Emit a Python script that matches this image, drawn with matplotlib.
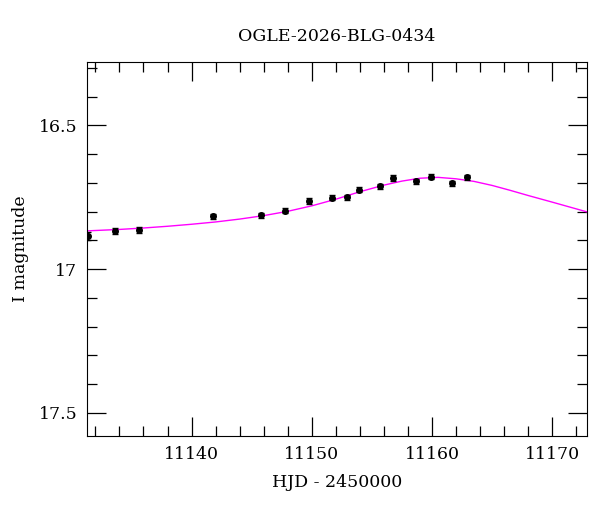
import matplotlib
matplotlib.use("Agg")
import matplotlib.pyplot as plt
from matplotlib.ticker import MultipleLocator

plt.rcParams['font.family'] = ['DejaVu Serif']

# photometry (HJD - 2450000, I mag, error)
hjd = [11131.4, 11133.6, 11135.6, 11141.8, 11145.8, 11147.8, 11149.8, 11151.7,
       11152.9, 11153.9, 11155.7, 11156.8, 11158.7, 11159.9, 11161.7, 11162.9]
mag = [16.885, 16.868, 16.864, 16.817, 16.813, 16.797, 16.763, 16.751,
       16.750, 16.724, 16.712, 16.683, 16.695, 16.679, 16.702, 16.681]
err = [0.014, 0.010, 0.011, 0.010, 0.009, 0.009, 0.009, 0.009,
       0.008, 0.008, 0.009, 0.009, 0.009, 0.008, 0.009, 0.009]

# model curve
model_t = [11131.3, 11134, 11136, 11138, 11140, 11142, 11144, 11146, 11148,
           11150, 11152, 11154, 11156, 11157.5, 11159, 11160.5, 11162,
           11163.5, 11165, 11166.5, 11168, 11170, 11172.9]
model_m = [16.867, 16.862, 16.857, 16.851, 16.844, 16.836, 16.826, 16.814, 16.799,
           16.780, 16.757, 16.731, 16.708, 16.694, 16.684, 16.681, 16.686,
           16.695, 16.709, 16.726, 16.744, 16.767, 16.801]

fig = plt.figure(figsize=(6, 5.12), dpi=100)
ax = fig.add_axes([87/600, 1 - 436/512, 500/600, 374/512])

ax.plot(model_t, model_m, color='magenta', lw=1)
ax.errorbar(hjd, mag, yerr=err, fmt='o', color='black', ms=4,
            elinewidth=1, capsize=2.5, capthick=1)

ax.set_xlim(11131.3, 11172.9)
ax.set_ylim(17.58, 16.28)
ax.xaxis.set_major_locator(MultipleLocator(10))
ax.xaxis.set_minor_locator(MultipleLocator(2))
ax.yaxis.set_major_locator(MultipleLocator(0.5))
ax.yaxis.set_minor_locator(MultipleLocator(0.1))
ax.yaxis.set_major_formatter(plt.FuncFormatter(lambda v, p: f"{v:g}"))
ax.tick_params(which='both', direction='in', top=True, right=True, labelsize=12.5)
ax.tick_params(which='major', length=13.5, width=0.9, pad=7)
ax.tick_params(which='minor', length=7, width=0.9)

ax.set_title("OGLE-2026-BLG-0434", fontsize=12.5, pad=15)
ax.set_xlabel("HJD - 2450000", fontsize=12.5, labelpad=8)
ax.set_ylabel("I magnitude", fontsize=12.5, labelpad=7)

fig.savefig("out.png", dpi=100)
